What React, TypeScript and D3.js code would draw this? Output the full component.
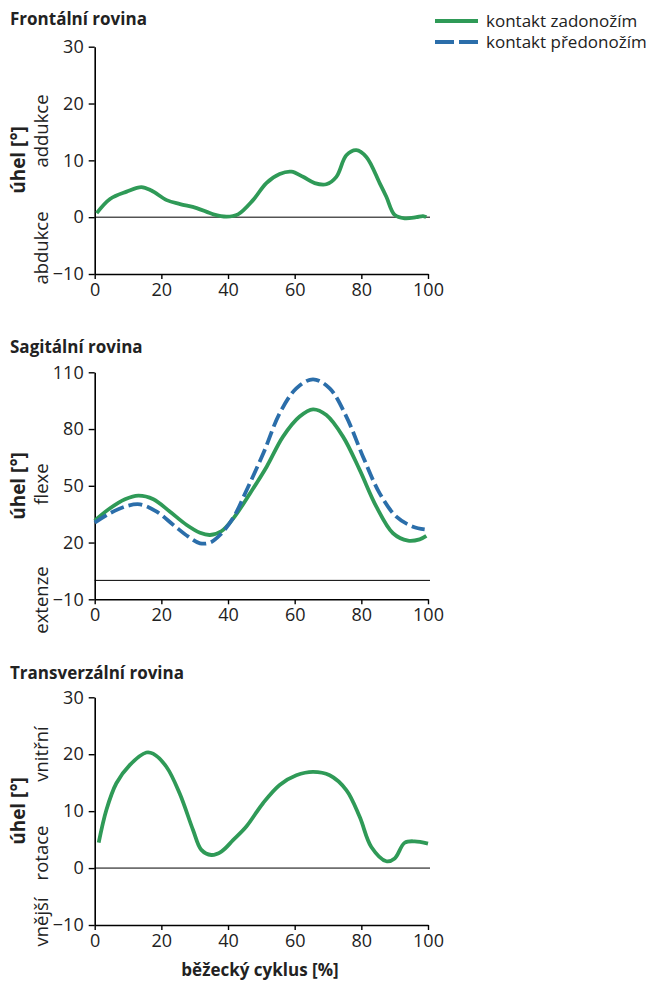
import React, { useEffect, useRef } from "react";
import * as d3 from "d3";

// gait cycle curves: [cycle %, angle °]
const frontalRear: [number, number][] = [
  [0.6, 0.7], [4.6, 3.2], [9.6, 4.5], [14, 5.3], [17, 4.7], [21.6, 3.0], [25.6, 2.3],
  [30.6, 1.6], [35.6, 0.5], [39.6, 0.1], [43, 0.5], [47.5, 3.0], [51.5, 6.0], [55.5, 7.6],
  [59, 8.0], [62.5, 7.1], [66, 6.0], [69.5, 5.8], [72.5, 7.1], [75.5, 10.9], [78.5, 11.8],
  [81.5, 10.6], [85.5, 6.0], [87.5, 3.6], [90, 0.4], [93, -0.2], [96.5, 0], [98.5, 0.2], [99.5, 0],
];

const sagittalRear: [number, number][] = [
  [0, 31.6], [4.6, 38.1], [9.1, 42.9], [13.1, 44.8], [17.6, 42.9], [22.6, 36.3], [27.6, 29.3],
  [31.6, 25.2], [34.6, 24.0], [38.1, 26.1], [41.6, 32.8], [46.6, 46.0], [51.6, 60.1],
  [56.5, 76.0], [61.5, 86.6], [65.5, 90.4], [69.5, 87.4], [74.5, 76.0], [79.5, 58.4],
  [84.5, 39.0], [89.5, 24.9], [94, 21.0], [97.5, 21.7], [99.5, 23.5],
];

const sagittalFore: [number, number][] = [
  [0, 30.5], [4.6, 35.5], [9.6, 39.3], [13.6, 40.2], [18.6, 36.3], [23.6, 29.3], [28.1, 23.1],
  [31.6, 19.6], [34.6, 20.0], [37.6, 24.0], [41.6, 33.2], [45.6, 47.8], [50.6, 67.2],
  [55.5, 88.3], [60.5, 101.5], [65.5, 106.3], [70.5, 101.5], [75.5, 86.6], [80.5, 65.4],
  [85.5, 46.0], [90.5, 33.7], [95.5, 28.4], [99, 27.0],
];

const transverseRear: [number, number][] = [
  [1.2, 4.45], [3.5, 10.2], [6.5, 14.9], [10.5, 18.1], [15.5, 20.3], [17.5, 20.1], [21.5, 17.8],
  [25.5, 13.1], [29.5, 6.7], [32, 3.2], [35, 2.3], [38, 2.9], [41.5, 4.9], [45.5, 7.3],
  [50.5, 11.4], [55.5, 14.6], [60.5, 16.3], [65.5, 16.9], [70.5, 16.3], [75.5, 13.7],
  [79.5, 9.0], [83, 3.7], [87.5, 1.2], [90, 1.7], [93, 4.45], [96, 4.7], [100, 4.3],
];

const xTicks = [0, 20, 40, 60, 80, 100];
const frontalTicks = [-10, 0, 10, 20, 30];
const sagittalTicks = [-10, 20, 50, 80, 110];
const transverseTicks = [-10, 0, 10, 20, 30];

const legendLabels = ["kontakt zadonožím", "kontakt předonožím"];

const GREEN = "#2f9a57";
const BLUE = "#2b6eaa";
const FONT = "'Open Sans', sans-serif";

function drawPanel(svg, opts) {
  const { title, titleY, top, bottom, domain, ticks, series, sideLabels, uhelY } = opts;
  const x = d3.scaleLinear().domain([0, 100]).range([94.7, 428]);
  const y = d3.scaleLinear().domain(domain).range([bottom, top]);
  const g = svg.append("g");

  g.append("text")
    .attr("x", 10)
    .attr("y", titleY)
    .style("font-family", FONT)
    .style("font-weight", "bold")
    .style("font-size", "17px")
    .attr("fill", "#222")
    .text(title);

  // zero line
  g.append("line")
    .attr("x1", x(0))
    .attr("x2", 430)
    .attr("y1", y(0))
    .attr("y2", y(0))
    .attr("stroke", "#000")
    .attr("stroke-width", 1);

  const yAxis = g
    .append("g")
    .attr("transform", `translate(${x(0)},0)`)
    .call(d3.axisLeft(y).tickValues(ticks).tickSize(6).tickSizeOuter(0).tickPadding(5));
  const xAxis = g
    .append("g")
    .attr("transform", `translate(0,${y(domain[0])})`)
    .call(d3.axisBottom(x).tickValues(xTicks).tickSize(5).tickSizeOuter(0).tickPadding(4));

  [yAxis, xAxis].forEach((a) => {
    a.select(".domain").attr("stroke", "#000").attr("stroke-width", 1.6);
    a.selectAll(".tick line").attr("stroke", "#000").attr("stroke-width", 1.4);
    a.selectAll("text")
      .style("font-family", FONT)
      .style("font-size", "18px")
      .attr("fill", "#222");
  });

  g.append("text")
    .attr("transform", `translate(25,${uhelY}) rotate(-90)`)
    .attr("text-anchor", "middle")
    .style("font-family", FONT)
    .style("font-weight", "bold")
    .style("font-size", "19px")
    .attr("fill", "#222")
    .text("úhel [°]");

  sideLabels.forEach(([label, cy]) => {
    g.append("text")
      .attr("transform", `translate(48,${cy}) rotate(-90)`)
      .attr("text-anchor", "middle")
      .style("font-family", FONT)
      .style("font-size", "18.5px")
      .attr("fill", "#222")
      .text(label);
  });

  const line = d3
    .line()
    .x((d) => x(d[0]))
    .y((d) => y(d[1]))
    .curve(d3.curveCatmullRom.alpha(0.5));

  series.forEach((s) => {
    g.append("path")
      .attr("d", line(s.data))
      .attr("fill", "none")
      .attr("stroke", s.color)
      .attr("stroke-width", 3.8)
      .attr("stroke-dasharray", s.dash || null);
  });
}

export default function App() {
  const ref = useRef(null);

  useEffect(() => {
    document.body.style.margin = "0";
    const svg = d3.select(ref.current);
    svg.selectAll("*").remove();

    drawPanel(svg, {
      title: "Frontální rovina",
      titleY: 25,
      top: 46.7,
      bottom: 274,
      domain: [-10, 30],
      ticks: frontalTicks,
      series: [{ data: frontalRear, color: GREEN }],
      sideLabels: [["addukce", 131], ["abdukce", 248]],
      uhelY: 160,
    });

    drawPanel(svg, {
      title: "Sagitální rovina",
      titleY: 353,
      top: 372.3,
      bottom: 599.3,
      domain: [-10, 110],
      ticks: sagittalTicks,
      series: [
        { data: sagittalRear, color: GREEN },
        { data: sagittalFore, color: BLUE, dash: "14,5" },
      ],
      sideLabels: [["flexe", 484], ["extenze", 600]],
      uhelY: 486,
    });

    drawPanel(svg, {
      title: "Transverzální rovina",
      titleY: 679,
      top: 697.3,
      bottom: 925,
      domain: [-10, 30],
      ticks: transverseTicks,
      series: [{ data: transverseRear, color: GREEN }],
      sideLabels: [["vnitřní", 754], ["rotace", 853], ["vnější", 922]],
      uhelY: 811,
    });

    svg.append("text")
      .attr("x", 260)
      .attr("y", 976)
      .attr("text-anchor", "middle")
      .style("font-family", FONT)
      .style("font-weight", "bold")
      .style("font-size", "17px")
      .attr("fill", "#222")
      .text("běžecký cyklus [%]");

    // legend
    const legend = svg.append("g");
    [GREEN, BLUE].forEach((c, i) => {
      const ly = 21 + i * 21;
      legend.append("line")
        .attr("x1", 435)
        .attr("x2", 478)
        .attr("y1", ly)
        .attr("y2", ly)
        .attr("stroke", c)
        .attr("stroke-width", 4)
        .attr("stroke-dasharray", i === 1 ? "19,5" : null);
      legend.append("text")
        .attr("x", 486)
        .attr("y", ly + 6)
        .style("font-family", FONT)
        .style("font-size", "17px")
        .attr("fill", "#222")
        .text(legendLabels[i]);
    });
  }, []);

  return <svg ref={ref} width={667} height={986} style={{ display: "block" }} />;
}
